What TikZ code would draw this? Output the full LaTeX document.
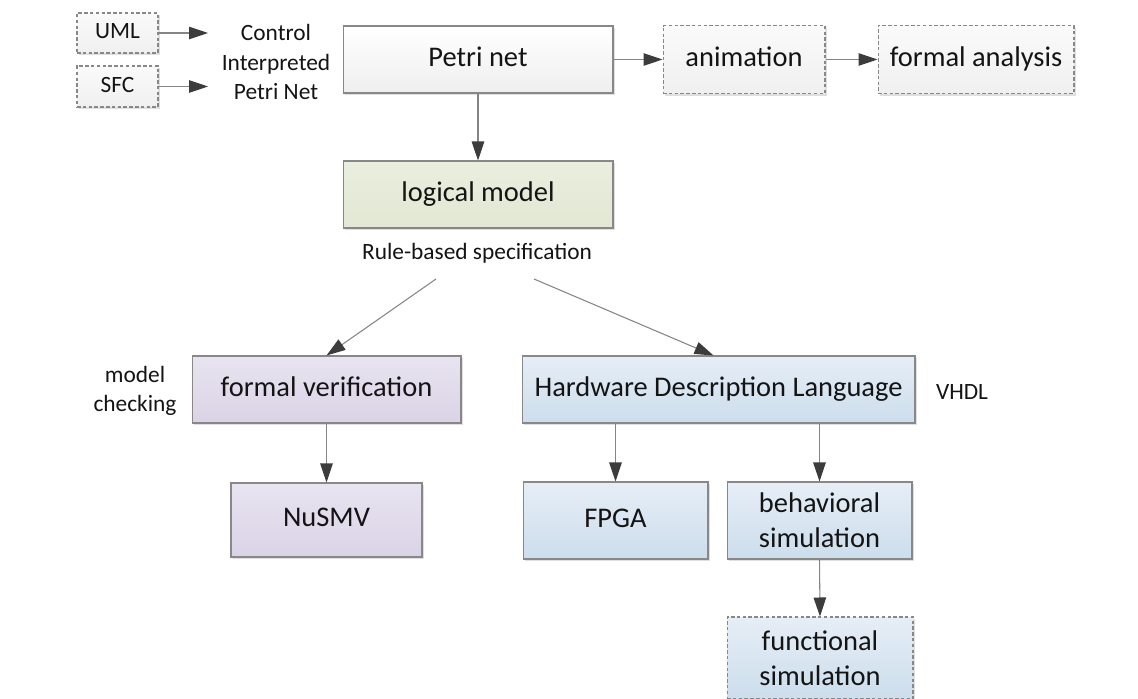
\documentclass[tikz,border=0pt]{standalone}
\usepackage{fontspec}
\setmainfont{Carlito}
\usetikzlibrary{arrows.meta,shadows,calc}
\definecolor{boxline}{HTML}{888888}
\definecolor{linegray}{HTML}{858585}
\definecolor{tipgray}{HTML}{3C3C3C}
\definecolor{txt}{HTML}{141414}
\begin{document}
\begin{tikzpicture}[x=0.02cm,y=-0.02cm,
  box/.style={draw=boxline, line width=0.6pt, rectangle, align=center, text=txt,
    font=\fontsize{16.2}{19.8}\selectfont, inner sep=0pt,
    drop shadow={shadow xshift=1.3pt,shadow yshift=-1.3pt,opacity=0.25,fill=black!50}},
  one/.style={execute at begin node=\strut},
  dbox/.style={box, dash pattern=on 2pt off 1.3pt, top color=gray!4, bottom color=gray!12},
  petribox/.style={box, top color=white, bottom color=gray!13},
  greenbox/.style={box, top color={rgb,255:red,234;green,238;blue,222}, bottom color={rgb,255:red,226;green,232;blue,212}},
  violetbox/.style={box, top color={rgb,255:red,232;green,228;blue,240}, bottom color={rgb,255:red,218;green,211;blue,230}},
  bluebox/.style={box, top color={rgb,255:red,230;green,238;blue,246}, bottom color={rgb,255:red,204;green,221;blue,236}},
  dbluebox/.style={bluebox, dash pattern=on 2pt off 1.3pt},
  lbl/.style={align=center, text=txt, font=\fontsize{13.3}{16.8}\selectfont, inner sep=0pt},
  arr/.style={draw=linegray, line width=0.6pt, -{Triangle[length=0.38cm,width=0.25cm,color=tipgray]}}
]
\useasboundingbox (0,0) rectangle (1138,699);
\fill[white] (0,0) rectangle (1138,699);
\clip (0,0) rectangle (1138,699);

% top row
\node[dbox, lbl, one, minimum width=1.62cm, minimum height=0.8cm] (uml) at (117.5,33) {UML};
\node[dbox, lbl, one, minimum width=1.62cm, minimum height=0.82cm] (sfc) at (117.5,86.5) {SFC};
\node[lbl] (cipn) at (276,62) {Control\\Interpreted\\Petri Net};
\coordinate (umlend) at (208,33);
\coordinate (sfcend) at (208,86.5);
\node[petribox, one, minimum width=5.4cm, minimum height=1.34cm] (petri) at (478,59.5) {Petri net};
\node[dbox, one, minimum width=3.24cm, minimum height=1.36cm] (anim) at (744,59.5) {animation};
\node[dbox, one, minimum width=3.92cm, minimum height=1.36cm] (fa) at (976,59.5) {formal analysis};

% logical model
\node[greenbox, one, minimum width=5.4cm, minimum height=1.34cm] (logic) at (478,194.5) {logical model};
\node[lbl] (rule) at (477,253) {Rule-based specification};
\coordinate (r1) at (436,279);
\coordinate (r2) at (534,279);

% second level
\node[violetbox, one, minimum width=5.38cm, minimum height=1.34cm] (fv) at (326.5,389.5) {formal verification};
\node[lbl] (mc) at (135,391) {model\\checking};
\node[bluebox, one, minimum width=7.86cm, minimum height=1.34cm] (hdl) at (718.5,389.5) {Hardware Description Language};
\node[lbl] (vhdl) at (962,392) {VHDL};

% third level
\node[violetbox, one, minimum width=3.82cm, minimum height=1.48cm] (nusmv) at (326.5,520) {NuSMV};
\node[bluebox, one, minimum width=3.7cm, minimum height=1.54cm] (fpga) at (615.5,520.5) {FPGA};
\node[bluebox, minimum width=3.7cm, minimum height=1.54cm] (behav) at (819.5,520.5) {behavioral\\simulation};
\node[dbluebox, minimum width=3.72cm, minimum height=1.64cm] (func) at (820,658) {functional\\simulation};

% connectors
\draw[arr] (uml.east) -- (umlend);
\draw[arr] (sfc.east) -- (sfcend);
\draw[arr] (petri.east) -- (anim.west);
\draw[arr] (anim.east) -- (fa.west);
\draw[arr] (petri.south) -- (logic.north);
\draw[arr] (r1) -- (fv.north);
\draw[arr] (r2) -- ($(hdl.north)+(-5,0)$);
\draw[arr] (fv.south) -- (nusmv.north);
\draw[arr] (fpga.north |- hdl.south) -- (fpga.north);
\draw[arr] (behav.north |- hdl.south) -- (behav.north);
\draw[arr] (behav.south) -- (func.north);
\end{tikzpicture}
\end{document}
